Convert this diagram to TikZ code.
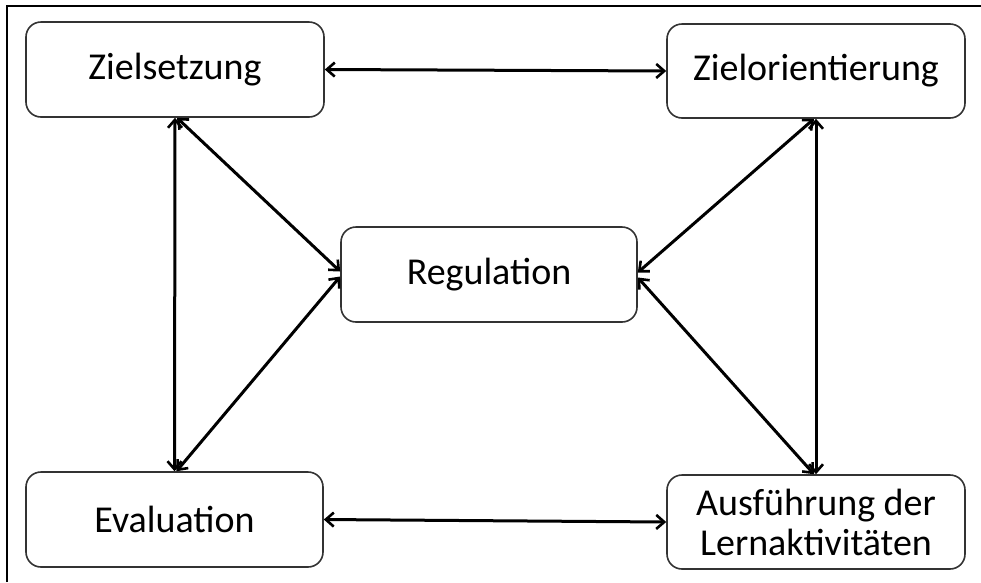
\documentclass[tikz,border=0pt]{standalone}
\usepackage{fontspec}
\setmainfont{Carlito}
\usetikzlibrary{arrows.meta,calc}
\begin{document}
\begin{tikzpicture}[x=1pt,y=-1pt,
  box/.style={draw=black!80,line width=1.6pt,rounded corners=15pt,fill=white,
    inner sep=0pt,align=center,font=\fontsize{38}{40}\selectfont,text=black},
  link/.style={line width=3pt,{Straight Barb[length=8pt,width=14pt,line width=2.6pt]}-{Straight Barb[length=8pt,width=14pt,line width=2.6pt]}}]
\useasboundingbox (0,0) rectangle (981,582);
\fill[white] (0,0) rectangle (981,582);
\draw[line width=1.8pt] (7,582) -- (7,6) -- (981,6);
\node[box,minimum width=298pt,minimum height=95pt] (zs) at (175,69.5) {Zielsetzung};
\node[box,minimum width=298pt,minimum height=94pt] (zo) at (816,71) {Zielorientierung};
\node[box,minimum width=297pt,minimum height=95pt] (ev) at (174.5,519.5) {Evaluation};
\node[box,minimum width=298pt,minimum height=94pt] (af) at (816,522) {Ausführung der\\Lernaktivitäten};
\node[box,minimum width=296pt,minimum height=95pt] (rg) at (489,274.5) {Regulation};
\draw[link] (zs.east) -- (zo.west);
\draw[link] (ev.east) -- (af.west);
\draw[link] (zs.south) -- (ev.north);
\draw[link] (zo.south) -- (af.north);
\draw[link] ($(zs.south)+(2,0)$) -- ($(rg.west)+(0,-3)$);
\draw[link] ($(rg.west)+(0,2)$) -- ($(ev.north)+(2,0)$);
\draw[link] ($(zo.south)+(-2,0)$) -- ($(rg.east)+(0,-2)$);
\draw[link] ($(rg.east)+(0,3)$) -- ($(af.north)+(-2,0)$);
\end{tikzpicture}
\end{document}
